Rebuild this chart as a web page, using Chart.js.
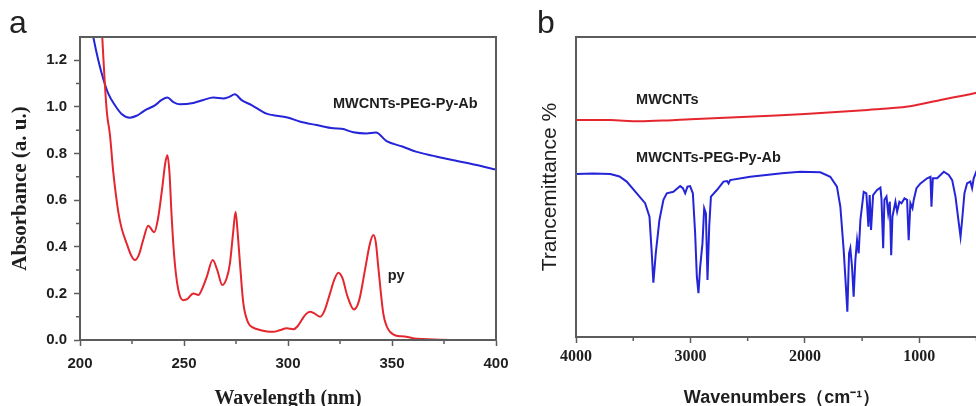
<!DOCTYPE html>
<html>
<head>
<meta charset="utf-8">
<script src="https://cdn.jsdelivr.net/npm/chart.js@4.4.1/dist/chart.umd.min.js"></script>
<style>
  html, body { margin: 0; padding: 0; background: #fff; overflow: hidden; width: 976px; height: 406px; }
  #uv { position: absolute; left: 0; top: 0; }
  #ir { position: absolute; left: 500px; top: 0; }
  .panel { position: absolute; top: 6px; font: 32px "Liberation Sans", Arial, sans-serif; line-height: 32px; color: #222; }
</style>
</head>
<body>
<canvas id="uv" width="540" height="420"></canvas>
<canvas id="ir" width="520" height="420"></canvas>
<div class="panel" style="left:9px">a</div>
<div class="panel" style="left:537px">b</div>
<script>
// panel a : UV-vis, wavelength (nm) vs absorbance
var pyWave = [208, 210, 211, 212, 213, 214.4, 216, 218.4, 220, 222.4, 224.5, 226.4, 228.5, 230.4, 232.8, 235.7,
  237.5, 239.5, 241, 242, 243, 244, 245.2, 246.5, 248, 249.7, 251.5, 254.5, 256.9, 258.5, 260.9, 263.8, 266,
  268.4, 270.5, 272.1, 273.5, 274.8, 275.8, 276.9, 278.5, 280.9, 283.5, 286.5, 290, 293, 296, 299.4, 302.6,
  304.5, 306.6, 308.5, 310.6, 312.5, 315.4, 317.5, 320.2, 322.3, 324.2, 326.2, 328.5, 331.7, 334.2, 337,
  339.3, 341, 342.2, 343.4, 345.8, 347.4, 349, 351, 353, 356, 360, 365, 370, 380, 390, 400];
var pyAbs = [1.75, 1.42, 1.25, 1.09, 0.97, 0.88, 0.72, 0.55, 0.48, 0.415, 0.365, 0.343, 0.37, 0.43, 0.49, 0.462,
  0.52, 0.65, 0.76, 0.793, 0.72, 0.54, 0.37, 0.257, 0.19, 0.171, 0.175, 0.2, 0.193, 0.215, 0.27, 0.343, 0.3,
  0.236, 0.265, 0.33, 0.45, 0.55, 0.46, 0.33, 0.159, 0.073, 0.052, 0.043, 0.036, 0.035, 0.042, 0.05, 0.046,
  0.058, 0.086, 0.11, 0.121, 0.115, 0.1, 0.125, 0.2, 0.26, 0.289, 0.265, 0.19, 0.131, 0.17, 0.3,
  0.41, 0.45, 0.42, 0.314, 0.114, 0.06, 0.036, 0.022, 0.017, 0.015, 0.008, 0.004, 0.002, 0, 0, 0];
var abWave = [204, 206.4, 208.8, 211.2, 213.6, 216.8, 220, 224, 227.2, 230, 232, 236, 239.3, 242, 244.9, 248,
  254.5, 259.3, 264.1, 268.9, 271.5, 274.5, 277.7, 282.5, 289.7, 299.7, 306, 313.8, 321.8, 325.8, 331.4,
  337.8, 342.3, 347.4, 355, 361.9, 370, 377.9, 390, 400];
var abAbs = [1.42, 1.3, 1.2, 1.12, 1.057, 1.007, 0.97, 0.954, 0.962, 0.978, 0.989, 1.007, 1.03, 1.04, 1.021, 1.011,
  1.017, 1.03, 1.04, 1.036, 1.042, 1.054, 1.029, 1.008, 0.971, 0.955, 0.936, 0.922, 0.908, 0.906, 0.891,
  0.886, 0.89, 0.853, 0.83, 0.807, 0.79, 0.774, 0.752, 0.731];
var uvMajorX = [200, 250, 300, 350, 400];
var uvMajorY = [0, 0.2, 0.4, 0.6, 0.8, 1.0, 1.2];
var uvMinorX = [225, 275, 325, 375];
var uvMinorY = [0.1, 0.3, 0.5, 0.7, 0.9, 1.1];

// panel b : FTIR, wavenumber (cm-1) vs transmittance
var cntWn = [4000, 3700, 3450, 3200, 3000, 2500, 2000, 1450, 1100, 815, 600, 500, 400];
var cntT = [72.3, 72.3, 71.9, 72.2, 72.6, 73.4, 74.3, 75.7, 76.8, 79, 80.6, 81.4, 82.3];
var abWn = [4000, 3850, 3700, 3620, 3557, 3469, 3396, 3358, 3338, 3324, 3303, 3271, 3236, 3207, 3149, 3090,
  3066, 3046, 3026, 3003, 2979, 2959, 2944, 2930, 2915, 2895, 2880, 2865, 2851, 2836, 2821, 2769, 2711,
  2680, 2667, 2653, 2478, 2200, 2040, 1865, 1778, 1720, 1690, 1661, 1640, 1629, 1614, 1603, 1588, 1574,
  1559, 1544, 1530, 1515, 1486, 1463, 1445, 1434, 1422, 1404, 1369, 1340, 1331, 1316, 1305, 1287, 1272,
  1258, 1246, 1235, 1209, 1194, 1174, 1156, 1130, 1107, 1093, 1078, 1060, 1049, 1025, 990, 932, 903, 894,
  882, 844, 786, 743, 713, 684, 655, 640, 626, 606, 583, 554, 539, 525, 500, 450, 400];
var abT = [54.3, 54.5, 54.3, 53.5, 51.8, 47.9, 44.6, 40.1, 27.9, 18.1, 27.9, 39, 45.7, 47.9, 48.4, 50.3,
  49.6, 47.9, 50.1, 50.3, 47.9, 34.6, 20.1, 14.6, 23.4, 31.2, 42.9, 41.2, 19, 36.8, 46.8, 49, 51.8,
  52, 51.2, 52.3, 53.4, 54.6, 55.1, 54.9, 53.4, 50.1, 43.4, 29, 15.7, 8.4, 27.9, 29.6, 23.4, 13.4,
  25.7, 32.3, 27.9, 39, 48.4, 47.9, 36.8, 47.3, 35.7, 47.3, 49, 49.8, 46.2, 29.6, 45.7, 46.8, 41.2,
  45.1, 27.3, 40.1, 45.1, 41.8, 45.1, 44.6, 46.2, 45.7, 32.3, 44.6, 42.9, 45.7, 49.6, 51.2, 52.9, 53.4, 43.4,
  52.9, 52.9, 55.1, 54, 52.3, 46.8, 37.9, 33.4, 39, 47.9, 51.2, 51.8, 49.6, 52.9, 55.3, 57, 58];
var irMajorX = [4000, 3000, 2000, 1000];
var irMinorX = [3500, 2500, 1500, 500];

var axisColor = '#5c5c5c';
var textColor = '#1e1e1e';
var sans = '"Liberation Sans", Arial, sans-serif';
var serif = '"Liberation Serif", "Times New Roman", serif';
var blue = '#2424d8';
var red = '#e5262e';

function pts(xs, ys) {
  return xs.map(function (x, i) { return { x: x, y: ys[i] }; });
}

function fixedTicks(values) {
  return function (s) { s.ticks = values.map(function (v) { return { value: v }; }); };
}

// frame, minor ticks and in-plot labels
function decor(minorX, minorY, notes, noteFont) {
  return {
    id: 'decor',
    afterDatasetsDraw: function (chart) {
      var ctx = chart.ctx, a = chart.chartArea;
      var sx = chart.scales.x, sy = chart.scales.y;
      ctx.save();
      ctx.strokeStyle = axisColor;
      ctx.lineWidth = 1.5;
      ctx.beginPath();
      minorX.forEach(function (v) {
        var px = sx.getPixelForValue(v);
        ctx.moveTo(px, a.bottom); ctx.lineTo(px, a.bottom + 4);
      });
      minorY.forEach(function (v) {
        var py = sy.getPixelForValue(v);
        ctx.moveTo(a.left, py); ctx.lineTo(a.left - 4, py);
      });
      ctx.stroke();
      ctx.lineWidth = 2;
      ctx.strokeRect(a.left, a.top, a.right - a.left, a.bottom - a.top);
      ctx.fillStyle = textColor;
      ctx.font = noteFont;
      ctx.textAlign = 'left';
      ctx.textBaseline = 'middle';
      notes.forEach(function (n) {
        ctx.fillText(n[0], sx.getPixelForValue(n[1]), sy.getPixelForValue(n[2]));
      });
      ctx.restore();
    }
  };
}

var uvChart = new Chart(document.getElementById('uv'), {
  type: 'line',
  data: {
    datasets: [{
      label: 'py',
      data: pts(pyWave, pyAbs),
      borderColor: red,
      borderWidth: 2,
      pointRadius: 0,
      cubicInterpolationMode: 'monotone'
    }, {
      label: 'MWCNTs-PEG-Py-Ab',
      data: pts(abWave, abAbs),
      borderColor: blue,
      borderWidth: 2,
      pointRadius: 0,
      cubicInterpolationMode: 'monotone'
    }]
  },
  options: {
    responsive: false,
    animation: false,
    layout: { padding: { top: 37, right: 44, left: 0, bottom: 0 } },
    plugins: { legend: { display: false }, tooltip: { enabled: false } },
    scales: {
      x: {
        type: 'linear', min: 200, max: 400,
        border: { color: axisColor, width: 2 },
        grid: { drawOnChartArea: false, tickLength: 6, tickColor: axisColor, tickWidth: 1.5 },
        ticks: {
          padding: 9, maxRotation: 0, autoSkip: false, color: textColor,
          font: { family: sans, size: 15, weight: 'bold' },
          callback: function (v) { return String(v); }
        },
        afterBuildTicks: fixedTicks(uvMajorX),
        title: {
          display: true, text: 'Wavelength (nm)', color: textColor,
          font: { family: serif, size: 20, weight: 'bold' }, padding: { top: 0, bottom: 9 }
        },
        afterFit: function (s) { s.height = 80; s.paddingLeft = 0; s.paddingRight = 0; }
      },
      y: {
        type: 'linear', min: 0, max: 1.3,
        border: { color: axisColor, width: 2 },
        grid: { drawOnChartArea: false, tickLength: 6, tickColor: axisColor, tickWidth: 1.5 },
        ticks: {
          padding: 7, autoSkip: false, color: textColor,
          font: { family: sans, size: 15, weight: 'bold' },
          callback: function (v) { return v.toFixed(1); }
        },
        afterBuildTicks: fixedTicks(uvMajorY),
        title: {
          display: true, text: 'Absorbance (a. u.)', color: textColor,
          font: { family: serif, size: 21, weight: 'bold' }, padding: { top: 8, bottom: 0 }
        },
        afterFit: function (s) { s.width = 80; s.paddingTop = 0; s.paddingBottom = 0; }
      }
    }
  },
  plugins: [decor(uvMinorX, uvMinorY,
    [['MWCNTs-PEG-Py-Ab', 321.6, 1.012], ['py', 347.9, 0.275]],
    'bold 14.5px ' + sans)]
});

var irChart = new Chart(document.getElementById('ir'), {
  type: 'line',
  data: {
    datasets: [{
      label: 'MWCNTs',
      data: pts(cntWn, cntT),
      borderColor: red,
      borderWidth: 2,
      pointRadius: 0,
      tension: 0.3
    }, {
      label: 'MWCNTs-PEG-Py-Ab',
      data: pts(abWn, abT),
      borderColor: blue,
      borderWidth: 2,
      pointRadius: 0,
      tension: 0
    }]
  },
  options: {
    responsive: false,
    animation: false,
    layout: { padding: { top: 37, right: 32, left: 0, bottom: 0 } },
    plugins: { legend: { display: false }, tooltip: { enabled: false } },
    scales: {
      x: {
        type: 'linear', min: 400, max: 4000, reverse: true,
        border: { color: axisColor, width: 2 },
        grid: { drawOnChartArea: false, tickLength: 6, tickColor: axisColor, tickWidth: 1.5 },
        ticks: {
          padding: 4, maxRotation: 0, autoSkip: false, color: textColor,
          font: { family: serif, size: 16, weight: 'bold' },
          callback: function (v) { return String(v); }
        },
        afterBuildTicks: fixedTicks(irMajorX),
        title: {
          display: true, text: 'Wavenumbers（cm⁻¹）', color: textColor,
          font: { family: sans, size: 18, weight: 'bold' }, padding: { top: 0, bottom: 11 }
        },
        afterFit: function (s) { s.height = 83; s.paddingLeft = 0; s.paddingRight = 0; }
      },
      y: {
        type: 'linear', min: 0, max: 100,
        border: { color: axisColor, width: 2 },
        grid: { drawOnChartArea: false, drawTicks: false },
        ticks: { display: false },
        title: {
          display: true, text: 'Trancemittance %', color: textColor,
          font: { family: sans, size: 21 }, padding: { top: 38, bottom: 0 }
        },
        afterFit: function (s) { s.width = 76; s.paddingTop = 0; s.paddingBottom = 0; }
      }
    }
  },
  plugins: [decor(irMinorX, [],
    [['MWCNTs', 3475, 79], ['MWCNTs-PEG-Py-Ab', 3475, 59.7]],
    'bold 14.5px ' + sans)]
});
</script>
</body>
</html>
